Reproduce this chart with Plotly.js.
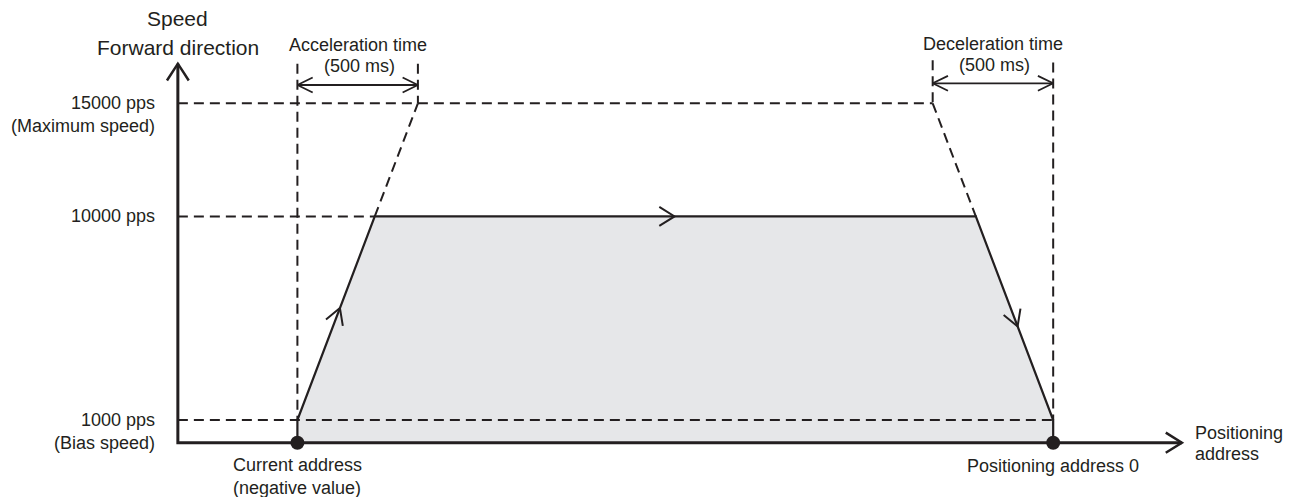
<!DOCTYPE html>
<html>
<head>
<meta charset="utf-8">
<script src="https://cdn.plot.ly/plotly-3.0.1.min.js"></script>
<style>html,body{margin:0;padding:0;background:#fff;}#chart{width:1299px;height:497px;}</style>
</head>
<body>
<div id="chart"></div>
<script>
// ---- data ----
const speedLevels = [15000, 10000, 1000];
const speedLabels = ['15000 pps', '10000 pps', '1000 pps'];
const speedNotes = ['(Maximum speed)', '', '(Bias speed)'];
const accelTime = 500;   // ms
const decelTime = 500;   // ms
const startAddress = 0;     // current address (negative value)
const endAddress = 3136;    // positioning address 0
const profileX = [0, 0, 321, 2815, 3136, 3136];
const profileY = [0, 1000, 10000, 10000, 1000, 0];
const axisOriginX = -496;
const axisEndX = 3670;
const axisTopY = 16750;

// ---- scales ----
const W = 1299, H = 497;
const xr = [-1234, 4156], yr = [-2400, 19565];
const sx = W / (xr[1] - xr[0]);
const sy = H / (yr[1] - yr[0]);
const ink = '#231f20';
const fontFam = 'Liberation Sans, Arial, sans-serif';

const traces = [];
function line(xs, ys, opts) {
  traces.push(Object.assign({type: 'scatter', mode: 'lines', x: xs, y: ys, hoverinfo: 'skip',
    showlegend: false, line: {color: ink, width: 2}}, opts || {}));
}
function dashed(xs, ys) { line(xs, ys, {line: {color: ink, width: 2, dash: '10px,6px'}}); }
// chevron: tip (data), direction in pixel space (px,py with y down)
function chevron(tx, ty, dpx, dpy, len, half, w) {
  const n = Math.hypot(dpx, dpy); const ux = dpx / n, uy = dpy / n;
  const a = half * Math.PI / 180;
  const arms = [a, -a].map(t => {
    const bx = -ux, by = -uy;
    const rx = bx * Math.cos(t) - by * Math.sin(t);
    const ry = bx * Math.sin(t) + by * Math.cos(t);
    return [tx + rx * len / sx, ty - ry * len / sy];
  });
  line([arms[0][0], tx, arms[1][0]], [arms[0][1], ty, arms[1][1]], {line: {color: ink, width: w || 2}});
}
function segDir(x0, y0, x1, y1) { return [(x1 - x0) * sx, -(y1 - y0) * sy]; }

// fill
traces.push({type: 'scatter', mode: 'lines', x: profileX, y: profileY, fill: 'toself',
  fillcolor: '#e6e7e9', line: {width: 0, color: 'rgba(0,0,0,0)'}, hoverinfo: 'skip', showlegend: false});

const vMax = speedLevels[0], vTarget = speedLevels[1], vBias = speedLevels[2];
// dashed guides
dashed([axisOriginX, endAddress - decelTime], [vMax, vMax]);
dashed([axisOriginX, profileX[2]], [vTarget, vTarget]);
dashed([axisOriginX, endAddress], [vBias, vBias]);
dashed([profileX[2], startAddress + accelTime], [vTarget, vMax]);
dashed([endAddress - decelTime, profileX[3]], [vMax, vTarget]);
dashed([startAddress, startAddress], [16750, vBias]);
dashed([startAddress + accelTime, startAddress + accelTime], [16750, vMax]);
dashed([endAddress - decelTime, endAddress - decelTime], [16900, vMax]);
dashed([endAddress, endAddress], [16800, vBias]);

// speed profile
line(profileX, profileY, {line: {color: ink, width: 2.2}});

// axes
line([axisOriginX, axisOriginX, axisEndX], [axisTopY, 0, 0], {line: {color: ink, width: 3}});
chevron(axisOriginX, axisTopY, 0, -1, 20, 33, 2.5);
chevron(axisEndX, 0, 1, 0, 19, 32, 2.5);

// direction chevrons on profile
(function () {
  let d = segDir(profileX[1], profileY[1], profileX[2], profileY[2]);
  const f1 = 0.55;
  chevron(profileX[1] + (profileX[2] - profileX[1]) * f1, profileY[1] + (profileY[2] - profileY[1]) * f1, d[0], d[1], 18, 30);
  chevron(1565, vTarget, 1, 0, 18, 32);
  d = segDir(profileX[3], profileY[3], profileX[4], profileY[4]);
  const f2 = 0.54;
  chevron(profileX[3] + (profileX[4] - profileX[3]) * f2, profileY[3] + (profileY[4] - profileY[3]) * f2, d[0], d[1], 18, 30);
})();

// time span arrows
const accArrowY = 15000 + (103.3 - 85) / sy;
const decArrowY = 15000 + (103.3 - 83.3) / sy;
line([startAddress, startAddress + accelTime], [accArrowY, accArrowY], {line: {color: ink, width: 1.8}});
chevron(startAddress, accArrowY, -1, 0, 17, 26, 1.8);
chevron(startAddress + accelTime, accArrowY, 1, 0, 17, 26, 1.8);
line([endAddress - decelTime, endAddress], [decArrowY, decArrowY], {line: {color: ink, width: 1.8}});
chevron(endAddress - decelTime, decArrowY, -1, 0, 17, 26, 1.8);
chevron(endAddress, decArrowY, 1, 0, 17, 26, 1.8);

// address dots
traces.push({type: 'scatter', mode: 'markers', x: [startAddress, endAddress], y: [0, 0],
  marker: {color: ink, size: 14}, hoverinfo: 'skip', showlegend: false});

// ---- annotations ----
const F = {family: fontFam, size: 18, color: ink};
const ann = [];
function txt(text, x, y, opts) {
  ann.push(Object.assign({text: text, x: x, y: y, xref: 'x', yref: 'y', showarrow: false,
    font: F, xanchor: 'center', yanchor: 'middle'}, opts || {}));
}
speedLevels.forEach((v, i) => {
  txt(speedLabels[i], axisOriginX, v, {xanchor: 'right', xshift: -21});
  if (speedNotes[i]) txt(speedNotes[i], axisOriginX, v, {xanchor: 'right', xshift: -21, yshift: -23});
});
txt('Current address', startAddress, 0, {yshift: -22});
txt('(negative value)', startAddress, 0, {yshift: -45});
txt('Positioning address 0', endAddress, 0, {yshift: -23});
txt('Positioning', axisEndX, 0, {xanchor: 'left', xshift: 11, yshift: 10});
txt('address', axisEndX, 0, {xanchor: 'left', xshift: 11, yshift: -11});
txt('Acceleration time', startAddress + accelTime / 2, vMax, {yshift: 58});
txt('(500 ms)', startAddress + accelTime / 2, vMax, {yshift: 37, xshift: 2});
txt('Deceleration time', endAddress - decelTime / 2, vMax, {yshift: 59});
txt('(500 ms)', endAddress - decelTime / 2, vMax, {yshift: 38, xshift: 2});
txt('Speed', axisOriginX, vMax, {yshift: 85, font: {family: fontFam, size: 21, color: ink}});
txt('Forward direction', axisOriginX, vMax, {yshift: 56, font: {family: fontFam, size: 21, color: ink}});

const layout = {
  width: W, height: H,
  margin: {l: 0, r: 0, t: 0, b: 0, pad: 0},
  paper_bgcolor: '#fff', plot_bgcolor: '#fff',
  xaxis: {range: xr, visible: false, fixedrange: true},
  yaxis: {range: yr, visible: false, fixedrange: true},
  showlegend: false,
  annotations: ann
};
Plotly.newPlot('chart', traces, layout, {staticPlot: true, displayModeBar: false});
</script>
</body>
</html>
